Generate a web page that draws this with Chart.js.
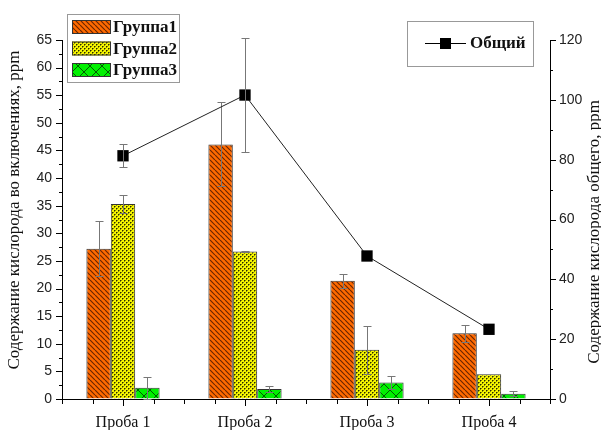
<!doctype html>
<html>
<head>
<meta charset="utf-8">
<title>Содержание кислорода</title>
<script src="https://cdn.jsdelivr.net/npm/chart.js@4/dist/chart.umd.min.js"></script>
<style>
	body { margin: 0; background: #fff; }
	canvas { display: block; }
</style>
</head>
<body>
<canvas id="canvas" width="601" height="430"></canvas>
<script>
const categories = ['Проба 1', 'Проба 2', 'Проба 3', 'Проба 4'];

const group1 = [27.2, 46.1, 21.4, 11.9];
const group1Err = [5.0, 7.6, 1.3, 1.5];
const group2 = [35.3, 26.7, 8.9, 4.5];
const group2Err = [1.6, 0.15, 4.3, 0];
const group3 = [2.05, 1.8, 3.0, 0.97];
const group3Err = [2.0, 0.5, 1.2, 0.4];

const total = [81.3, 101.6, 47.8, 23.3];
const totalErr = [3.8, 19.2, 0, 0];

const leftTitle = 'Содержание кислорода во включениях, ppm';
const rightTitle = 'Содержание кислорода общего, ppm';

const canvas = document.getElementById('canvas');
const ctx = canvas.getContext('2d');

function makePattern(size, draw) {
	const c = document.createElement('canvas');
	c.width = size;
	c.height = size;
	draw(c.getContext('2d'), size);
	return ctx.createPattern(c, 'repeat');
}

const orangeHatch = makePattern(5, (g, s) => {
	g.fillStyle = '#ff6a00';
	g.fillRect(0, 0, s, s);
	g.strokeStyle = '#6b2600';
	g.lineWidth = 1.2;
	g.beginPath();
	for (const k of [-s, 0, s]) {
		g.moveTo(k, 0);
		g.lineTo(k + s, s);
	}
	g.stroke();
});

const yellowDots = makePattern(4, (g, s) => {
	g.fillStyle = '#f5f500';
	g.fillRect(0, 0, s, s);
	g.fillStyle = '#2a2a00';
	g.fillRect(0, 0, 1, 1);
	g.fillRect(2, 2, 1, 1);
	g.fillStyle = '#8a8a00';
	g.fillRect(1, 0, 1, 1);
	g.fillRect(3, 2, 1, 1);
	g.fillRect(0, 1, 1, 1);
	g.fillRect(2, 3, 1, 1);
});

const greenCross = makePattern(12, (g, s) => {
	g.fillStyle = '#00f000';
	g.fillRect(0, 0, s, s);
	g.strokeStyle = '#005a00';
	g.lineWidth = 1;
	g.beginPath();
	g.moveTo(0, 0); g.lineTo(s, s);
	g.moveTo(s, 0); g.lineTo(0, s);
	g.stroke();
});

// error bars, drawn from each dataset's errors array
const errorBars = {
	id: 'errorBars',
	afterDatasetDraw(chart, args) {
		const ds = chart.data.datasets[args.index];
		if (!ds.errors) return;
		const meta = args.meta;
		const scale = chart.scales[meta.yAxisID];
		const c = chart.ctx;
		c.save();
		c.strokeStyle = '#777';
		c.lineWidth = 1;
		c.beginPath();
		meta.data.forEach((el, i) => {
			const e = ds.errors[i];
			if (!e) return;
			const x = Math.round(el.x) + 0.5;
			const yTop = Math.round(scale.getPixelForValue(ds.data[i] + e)) + 0.5;
			const yBot = Math.round(scale.getPixelForValue(ds.data[i] - e)) + 0.5;
			c.moveTo(x, yTop); c.lineTo(x, yBot);
			c.moveTo(x - 4, yTop); c.lineTo(x + 4, yTop);
			c.moveTo(x - 4, yBot); c.lineTo(x + 4, yBot);
		});
		c.stroke();
		c.restore();
	}
};

// outward ticks (major + minor) and the two axis titles
const axisDecor = {
	id: 'axisDecor',
	afterDraw(chart) {
		const c = chart.ctx;
		const area = chart.chartArea;
		const {x, y, y1} = chart.scales;
		c.save();
		c.strokeStyle = '#000';
		c.lineWidth = 1;
		c.beginPath();
		for (let v = y.min; v <= y.max; v += 2.5) {
			const py = Math.round(y.getPixelForValue(v)) + 0.5;
			const len = v % 5 === 0 ? 6 : 3;
			c.moveTo(area.left - len, py); c.lineTo(area.left, py);
		}
		for (let v = y1.min; v <= y1.max; v += 10) {
			const py = Math.round(y1.getPixelForValue(v)) + 0.5;
			const len = v % 20 === 0 ? 6 : 3;
			c.moveTo(area.right, py); c.lineTo(area.right + len, py);
		}
		const half = (x.getPixelForValue(1) - x.getPixelForValue(0)) / 2;
		categories.forEach((_, i) => {
			const cx = x.getPixelForValue(i);
			[-half, -half / 2, 0, half / 2, half].forEach((d) => {
				const px = Math.round(cx + d) + 0.5;
				const len = d === 0 ? 7 : 5;
				c.moveTo(px, area.bottom); c.lineTo(px, area.bottom + len);
			});
		});
		c.stroke();

		c.fillStyle = '#111';
		c.font = '17px "Liberation Serif"';
		c.textAlign = 'center';
		c.textBaseline = 'middle';
		c.translate(15, 210);
		c.rotate(-Math.PI / 2);
		c.fillText(leftTitle, 0, 0);
		c.setTransform(1, 0, 0, 1, 0, 0);
		c.translate(595, 232);
		c.rotate(-Math.PI / 2);
		c.fillText(rightTitle, 0, 0);
		c.restore();
	}
};

// two boxed legends like the original figure
const boxLegends = {
	id: 'boxLegends',
	afterDraw(chart) {
		const c = chart.ctx;
		const sets = chart.data.datasets;
		c.save();
		c.fillStyle = '#fff';
		c.strokeStyle = '#999';
		c.lineWidth = 1;
		c.fillRect(67.5, 14.5, 112, 68);
		c.strokeRect(67.5, 14.5, 112, 68);
		c.font = 'bold 17px "Liberation Serif"';
		c.textBaseline = 'middle';
		c.textAlign = 'left';
		[0, 1, 2].forEach((k) => {
			const cy = 27 + k * 21.5;
			c.fillStyle = sets[k].backgroundColor;
			c.fillRect(72, cy - 7, 39, 14);
			c.strokeStyle = '#333';
			c.strokeRect(72.5, cy - 6.5, 38, 13);
			c.fillStyle = '#111';
			c.fillText(sets[k].label, 113, cy + 1);
		});

		c.fillStyle = '#fff';
		c.strokeStyle = '#999';
		c.fillRect(407.5, 21.5, 126, 45);
		c.strokeRect(407.5, 21.5, 126, 45);
		c.strokeStyle = '#000';
		c.beginPath();
		c.moveTo(425, 43.5); c.lineTo(466, 43.5);
		c.stroke();
		c.fillStyle = '#000';
		c.fillRect(440, 38, 11, 11);
		c.fillStyle = '#111';
		c.fillText(sets[3].label, 470, 44);
		c.restore();
	}
};

Chart.defaults.font.family = '"Liberation Sans", Arial, sans-serif';
Chart.defaults.color = '#222';

new Chart(ctx, {
	data: {
		labels: categories,
		datasets: [{
			type: 'bar',
			label: 'Группа1',
			data: group1,
			errors: group1Err,
			backgroundColor: orangeHatch,
			borderColor: '#333',
			borderWidth: 1,
			yAxisID: 'y',
			order: 1
		}, {
			type: 'bar',
			label: 'Группа2',
			data: group2,
			errors: group2Err,
			backgroundColor: yellowDots,
			borderColor: '#333',
			borderWidth: 1,
			yAxisID: 'y',
			order: 1
		}, {
			type: 'bar',
			label: 'Группа3',
			data: group3,
			errors: group3Err,
			backgroundColor: greenCross,
			borderColor: '#333',
			borderWidth: 1,
			yAxisID: 'y',
			order: 1
		}, {
			type: 'line',
			label: 'Общий',
			data: total,
			errors: totalErr,
			borderColor: '#222',
			borderWidth: 1,
			pointStyle: 'rect',
			pointRadius: 8,
			pointBackgroundColor: '#000',
			pointBorderColor: '#000',
			pointBorderWidth: 0,
			yAxisID: 'y1',
			order: 0
		}]
	},
	options: {
		responsive: false,
		animation: false,
		devicePixelRatio: 1,
		layout: {
			padding: { top: 40, left: 0, right: 0, bottom: 0 }
		},
		datasets: {
			bar: {
				categoryPercentage: 0.6,
				barPercentage: 1.0
			}
		},
		plugins: {
			legend: { display: false },
			tooltip: { enabled: false }
		},
		scales: {
			x: {
				position: 'bottom',
				grid: { display: true, drawOnChartArea: false, drawTicks: false },
				border: { color: '#000', width: 1 },
				ticks: {
					padding: 14,
					color: '#111',
					font: { family: '"Liberation Serif", serif', size: 16 }
				},
				afterFit(scale) { scale.height = 31; }
			},
			y: {
				position: 'left',
				min: 0,
				max: 65,
				grid: { display: true, drawOnChartArea: false, drawTicks: false },
				border: { color: '#000', width: 1 },
				ticks: {
					stepSize: 5,
					padding: 10,
					font: { size: 14 }
				},
				afterFit(scale) { scale.width = 62; }
			},
			y1: {
				position: 'right',
				min: 0,
				max: 120,
				grid: { display: true, drawOnChartArea: false, drawTicks: false },
				border: { color: '#000', width: 1 },
				ticks: {
					stepSize: 20,
					padding: 9,
					font: { size: 14 }
				},
				afterFit(scale) { scale.width = 51; }
			}
		}
	},
	plugins: [errorBars, axisDecor, boxLegends]
});
</script>
</body>
</html>
